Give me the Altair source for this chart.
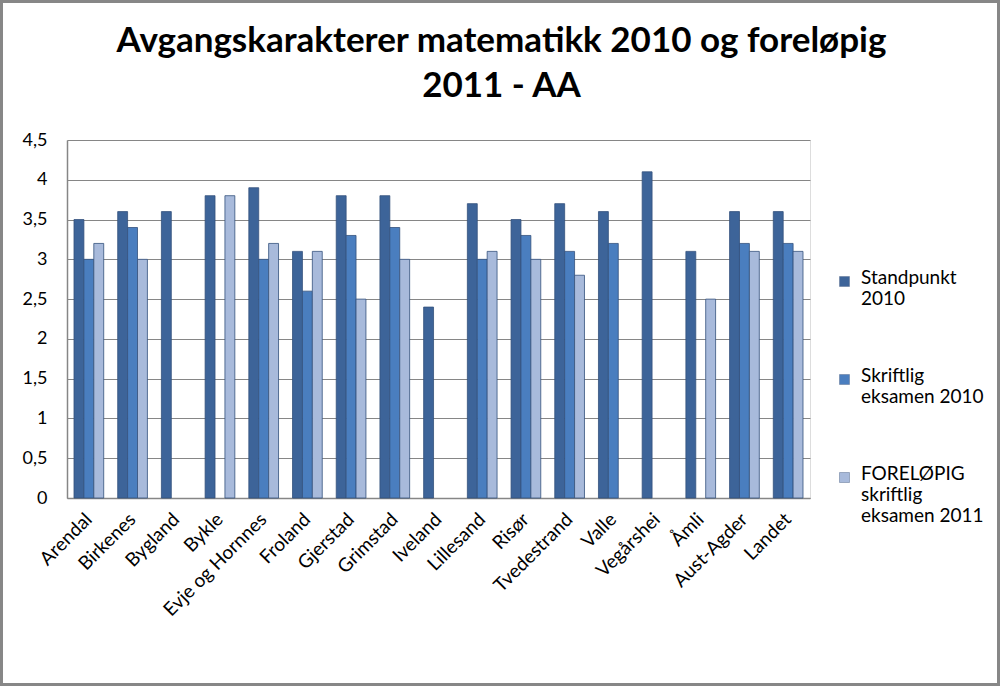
import altair as alt
import pandas as pd

categories = ["Arendal", "Birkenes", "Bygland", "Bykle", "Evje og Hornnes", "Froland",
              "Gjerstad", "Grimstad", "Iveland", "Lillesand", "Risør", "Tvedestrand",
              "Valle", "Vegårshei", "Åmli", "Aust-Agder", "Landet"]
standpunkt_2010 = [3.5, 3.6, 3.6, 3.8, 3.9, 3.1, 3.8, 3.8, 2.4, 3.7, 3.5, 3.7, 3.6, 4.1, 3.1, 3.6, 3.6]
skriftlig_2010 = [3.0, 3.4, None, None, 3.0, 2.6, 3.3, 3.4, None, 3.0, 3.3, 3.1, 3.2, None, None, 3.2, 3.2]
forelopig_2011 = [3.2, 3.0, None, 3.8, 3.2, 3.1, 2.5, 3.0, None, 3.1, 3.0, 2.8, None, None, 2.5, 3.1, 3.1]

series_names = ["Standpunkt 2010", "Skriftlig eksamen 2010", "FORELØPIG skriftlig eksamen 2011"]
series_colors = ["#3D6499", "#4A7EBF", "#A8BADB"]
y_ticks = [0, 0.5, 1, 1.5, 2, 2.5, 3, 3.5, 4, 4.5]
title_lines = ["Avgangskarakterer matematikk  2010 og foreløpig", "2011 - AA"]

rows = []
for series, values in zip(series_names, [standpunkt_2010, skriftlig_2010, forelopig_2011]):
    for cat, v in zip(categories, values):
        if v is not None:
            rows.append({"Kommune": cat, "Serie": series, "Verdi": v})
df = pd.DataFrame(rows)

W, H = 743, 358
PL, PT, PR, PB = 67, 140, 190, 188

legend_label_expr = (
    "datum.label == 'Standpunkt 2010' ? ['Standpunkt', '2010'] : "
    "datum.label == 'Skriftlig eksamen 2010' ? ['Skriftlig', 'eksamen 2010'] : "
    "['FORELØPIG', 'skriftlig', 'eksamen 2011']"
)

bars = alt.Chart(df).mark_bar(stroke="#34507C", strokeWidth=0.8).encode(
    x=alt.X("Kommune:N", sort=categories,
            scale=alt.Scale(paddingInner=0.32, paddingOuter=0.16),
            axis=alt.Axis(title=None, labelAngle=-45, labelAlign="right", labelBaseline="middle",
                          labelFont="Lato", labelFontSize=19, labelColor="#000000",
                          labelPadding=18, ticks=False, domainColor="#868686", domainWidth=1.5,
                          labelLimit=300)),
    xOffset=alt.XOffset("Serie:N", sort=series_names,
                        scale=alt.Scale(domain=series_names, paddingInner=0, paddingOuter=0)),
    y=alt.Y("Verdi:Q", scale=alt.Scale(domain=[0, 4.5], nice=False),
            axis=alt.Axis(title=None, values=y_ticks, ticks=False,
                          labelExpr="replace(toString(datum.value), '.', ',')",
                          labelFont="Lato", labelFontSize=18, labelColor="#000000",
                          labelPadding=20, domainColor="#868686", domainWidth=1.5,
                          gridColor="#868686", gridWidth=1)),
    color=alt.Color("Serie:N", sort=series_names,
                    scale=alt.Scale(domain=series_names, range=series_colors),
                    legend=alt.Legend(title=None, orient="none", legendX=768, legendY=119,
                                      padding=0, symbolType="M-1,1.6H1V3.6H-1Z", symbolSize=100,
                                      symbolStrokeColor="#5A6F90", symbolStrokeWidth=0.5,
                                      labelFont="Lato", labelFontSize=19, labelColor="#000000",
                                      labelBaseline="top", labelOffset=7, labelLimit=300,
                                      labelExpr=legend_label_expr, rowPadding=48,
                                      direction="vertical")),
)

frame = alt.Chart(pd.DataFrame({"f": [0]})).mark_rect(
    fillOpacity=0, stroke="#878787", strokeWidth=3
).encode(
    x=alt.value(-PL + 1.5), x2=alt.value(W + PR - 1.5),
    y=alt.value(-PT + 1.5), y2=alt.value(H + PB - 1.5),
)

chart = alt.layer(bars, frame).properties(
    width=W, height=H,
    autosize=alt.AutoSizeParams(type="none"),
    padding={"left": PL, "top": PT, "right": PR, "bottom": PB},
    title=alt.TitleParams(text=title_lines, font="Lato", fontWeight="bold",
                          fontSize=35, anchor="middle", frame="group", dx=63, offset=-104,
                          lineHeight=45, color="#000000"),
).configure_view(fill="#E6EBF3", stroke=None).configure(background="#FFFFFF")

chart.save("out.html", embed_options={"renderer": "svg", "actions": False})
